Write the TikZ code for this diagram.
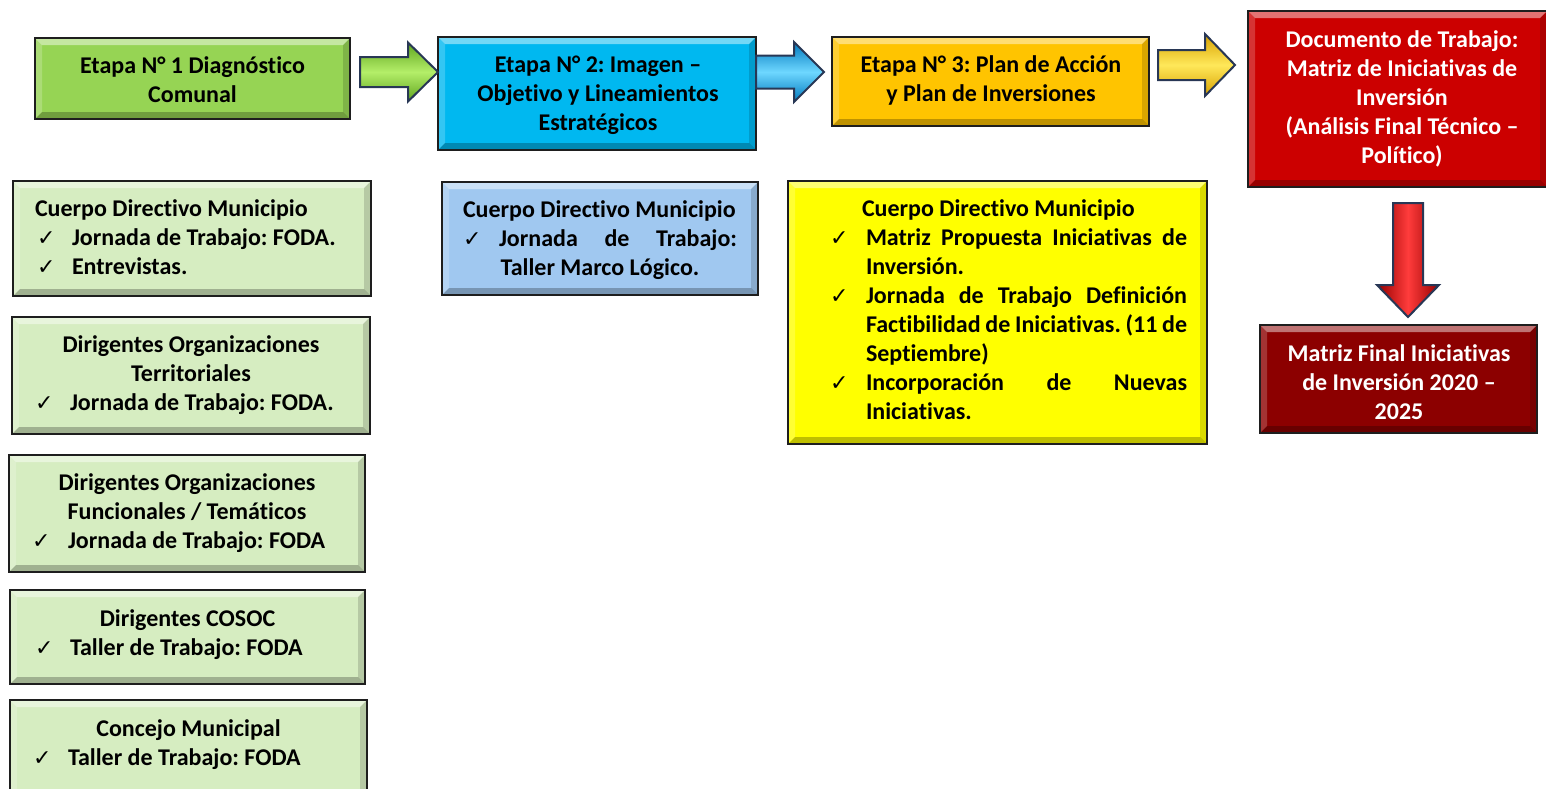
\documentclass[tikz,border=0pt]{standalone}
\usepackage{fontspec}
\setmainfont{Carlito}[Ligatures=CommonOff]
\newfontfamily\ckfont{DejaVu Sans}
\usetikzlibrary{calc}
\setlength{\parindent}{0pt}
\definecolor{gtop}{RGB}{150,212,84}
\definecolor{btop}{RGB}{0,184,240}
\definecolor{otop}{RGB}{255,196,0}
\definecolor{rtop}{RGB}{204,0,0}
\definecolor{drtop}{RGB}{140,0,0}
\definecolor{lgreen}{RGB}{214,237,193}
\definecolor{lblue}{RGB}{160,200,240}
\definecolor{ybox}{RGB}{255,255,0}
\definecolor{arrline}{RGB}{40,55,85}
\definecolor{boxline}{RGB}{30,30,30}
\definecolor{garr1}{RGB}{95,165,30}
\definecolor{garr2}{RGB}{180,238,105}
\definecolor{barr1}{RGB}{0,120,190}
\definecolor{barr2}{RGB}{110,215,255}
\definecolor{oarr1}{RGB}{215,160,0}
\definecolor{oarr2}{RGB}{255,232,90}
\definecolor{rarr1}{RGB}{150,0,0}
\definecolor{rarr2}{RGB}{255,60,60}
\newcommand\ck{{\ckfont\fontsize{22}{22}\selectfont ✓}}
\newcommand\resetsp{\spaceskip=0pt\xspaceskip=0pt\frenchspacing}
\newcommand\bvw{7pt}
\newcommand\boxbevel[1]{%
 \fill[white,opacity=.45] (#1.north west) -- (#1.north east) -- ([xshift=-\bvw,yshift=-\bvw]#1.north east) -- ([xshift=\bvw,yshift=-\bvw]#1.north west) -- cycle;
 \fill[white,opacity=.2] (#1.north west) -- ([xshift=\bvw,yshift=-\bvw]#1.north west) -- ([xshift=\bvw,yshift=\bvw]#1.south west) -- (#1.south west) -- cycle;
 \fill[black,opacity=.25] (#1.south west) -- ([xshift=\bvw,yshift=\bvw]#1.south west) -- ([xshift=-\bvw,yshift=\bvw]#1.south east) -- (#1.south east) -- cycle;
 \fill[black,opacity=.15] (#1.north east) -- (#1.south east) -- ([xshift=-\bvw,yshift=\bvw]#1.south east) -- ([xshift=-\bvw,yshift=-\bvw]#1.north east) -- cycle;
 \draw[boxline, line width=2.5pt] (#1.north west) rectangle (#1.south east);}
% right block arrow: style, start, tip, half shaft, half head, head length
\newcommand\rblock[6]{%
 \draw[#1] let \p1=(#2), \p2=(#3) in
 (\x1,\y1+#4) -- (\x2-#6,\y1+#4) -- (\x2-#6,\y1+#5) -- (\x2,\y1) -- (\x2-#6,\y1-#5) -- (\x2-#6,\y1-#4) -- (\x1,\y1-#4) -- cycle;}
\newcommand\dblock[6]{%
 \draw[#1] let \p1=(#2), \p2=(#3) in
 (\x1-#4,\y1) -- (\x1-#4,\y2+#6) -- (\x1-#5,\y2+#6) -- (\x1,\y2) -- (\x1+#5,\y2+#6) -- (\x1+#4,\y2+#6) -- (\x1+#4,\y1) -- cycle;}
\tikzset{
 boxst/.style={inner sep=0pt, outer sep=0pt},
 txt/.style={inner sep=0pt, font=\fontsize{24}{29}\selectfont\bfseries\frenchspacing,
   execute at begin node=\strut, execute at end node=\strut},
 arrst/.style={draw=arrline, line width=2pt, line join=miter},
}
\begin{document}
\begin{tikzpicture}[x=1pt,y=-1pt]
\useasboundingbox (0,0) rectangle (1546,788);
\fill[white] (0,0) rectangle (1546,788);

% ---- top row boxes
\node[boxst, fill=gtop, minimum width=315pt, minimum height=81pt] (s1) at (192.5,78.5) {};
\node[boxst, fill=btop, minimum width=318pt, minimum height=113pt] (s2) at (597,93.5) {};
\node[boxst, fill=otop, minimum width=317pt, minimum height=89pt] (s3) at (990.5,81.5) {};
\node[boxst, fill=rtop, minimum width=299pt, minimum height=176pt] (s4) at (1397.5,99) {};
\node[boxst, fill=drtop, minimum width=277pt, minimum height=108pt] (s5) at (1398.5,379) {};
% ---- detail boxes
\node[boxst, fill=lgreen, minimum width=358pt, minimum height=115pt] (ba) at (192,238.5) {};
\node[boxst, fill=lgreen, minimum width=358pt, minimum height=117pt] (bb) at (191,375.5) {};
\node[boxst, fill=lgreen, minimum width=356pt, minimum height=117pt] (bc) at (187,513.5) {};
\node[boxst, fill=lgreen, minimum width=355pt, minimum height=94pt] (bd) at (187.5,637) {};
\node[boxst, fill=lgreen, minimum width=357pt, minimum height=100pt] (be) at (188.5,750) {};
\node[boxst, fill=lblue, minimum width=316pt, minimum height=113pt] (bl) at (600,238.5) {};
\node[boxst, fill=ybox, minimum width=419pt, minimum height=263pt] (yb) at (997.5,312.5) {};

\foreach \n in {s1,s2,s3,s4,s5,ba,bb,bc,bd,be,bl,yb} {\boxbevel{\n}}

% ---- texts
\node[txt, align=center] (t1) at (192.5,84) {Etapa N° 1 Diagnóstico\\Comunal};
\node[txt, align=center] (t2) at (598,97.5) {Etapa N° 2: Imagen –\\Objetivo y Lineamientos\\Estratégicos};
\node[txt, align=center] (t3) at (991,83) {Etapa N° 3: Plan de Acción\\y Plan de Inversiones};
\node[txt, align=center, text=white] (t4) at (1402,101.5) {Documento de Trabajo:\\Matriz de Iniciativas de\\Inversión\\(Análisis Final Técnico –\\Político)};
\node[txt, align=center, text=white] (t5) at (1399,386.5) {Matriz Final Iniciativas\\de Inversión 2020 –\\2025};

\node[txt, align=left, text width=314pt] (ta) at (192,239.5) {\resetsp Cuerpo Directivo Municipio\\
\hspace*{2pt}\makebox[35pt][l]{\ck}Jornada de Trabajo: FODA.\\
\hspace*{2pt}\makebox[35pt][l]{\ck}Entrevistas.};
\node[txt, align=left, text width=312pt] (tb) at (191,375.5) {\resetsp\makebox[312pt]{Dirigentes Organizaciones}\\
\makebox[312pt]{Territoriales}\\
\makebox[35pt][l]{\ck}Jornada de Trabajo: FODA.};
\node[txt, align=left, text width=310pt] (tc) at (187,513.5) {\resetsp\makebox[310pt]{Dirigentes Organizaciones}\\
\makebox[310pt]{Funcionales / Temáticos}\\
\makebox[36pt][l]{\ck}Jornada de Trabajo: FODA};
\node[txt, align=left, text width=305pt] (td) at (187.5,635) {\resetsp\makebox[305pt]{Dirigentes COSOC}\\
\makebox[35pt][l]{\ck}Taller de Trabajo: FODA};
\node[txt, align=left, text width=311pt] (te) at (188.5,745) {\resetsp\makebox[311pt]{Concejo Municipal}\\
\makebox[35pt][l]{\ck}Taller de Trabajo: FODA};
\node[txt, align=left, text width=274pt] (tl) at (600,240.5) {\resetsp Cuerpo Directivo Municipio\\
\makebox[36pt][l]{\ck}\makebox[238pt][s]{Jornada de Trabajo:}\\
\makebox[274pt]{Taller Marco Lógico.}};
\node[txt, align=left, text width=357pt] (ty) at (1008.5,312.5) {\resetsp\hspace*{32pt}Cuerpo Directivo Municipio\\
\makebox[36pt][l]{\ck}\makebox[321pt][s]{Matriz Propuesta Iniciativas de}\\
\hspace*{36pt}Inversión.\\
\makebox[36pt][l]{\ck}\makebox[321pt][s]{Jornada de Trabajo Definición}\\
\hspace*{36pt}\makebox[321pt][s]{Factibilidad de Iniciativas. (11 de}\\
\hspace*{36pt}Septiembre)\\
\makebox[36pt][l]{\ck}\makebox[321pt][s]{Incorporación de Nuevas}\\
\hspace*{36pt}Iniciativas.};

% ---- block arrows (connectors)
\coordinate (a1s) at ([xshift=10pt]s1.east |- 0,72);
\coordinate (a1t) at (s2.west |- 0,72);
\coordinate (a2s) at (s2.east |- 0,72);
\coordinate (a2t) at ([xshift=68pt]s2.east |- 0,72);
\coordinate (a3s) at ([xshift=9pt]s3.east |- 0,65);
\coordinate (a3t) at ([xshift=-13pt]s4.west |- 0,65);
\coordinate (a4s) at ([yshift=-16pt]s4.south -| 1408,0);
\coordinate (a4t) at ([yshift=8pt]s5.north -| 1408,0);

\rblock{arrst, top color=garr1, bottom color=garr1, middle color=garr2}{a1s}{a1t}{15pt}{29.5pt}{30pt}
\rblock{arrst, top color=barr1, bottom color=barr1, middle color=barr2}{a2s}{a2t}{16.5pt}{30pt}{30pt}
\rblock{arrst, top color=oarr1, bottom color=oarr1, middle color=oarr2}{a3s}{a3t}{15pt}{31pt}{30pt}
\dblock{arrst, left color=rarr1, right color=rarr1, middle color=rarr2}{a4s}{a4t}{15pt}{31pt}{32pt}
\end{tikzpicture}
\end{document}
